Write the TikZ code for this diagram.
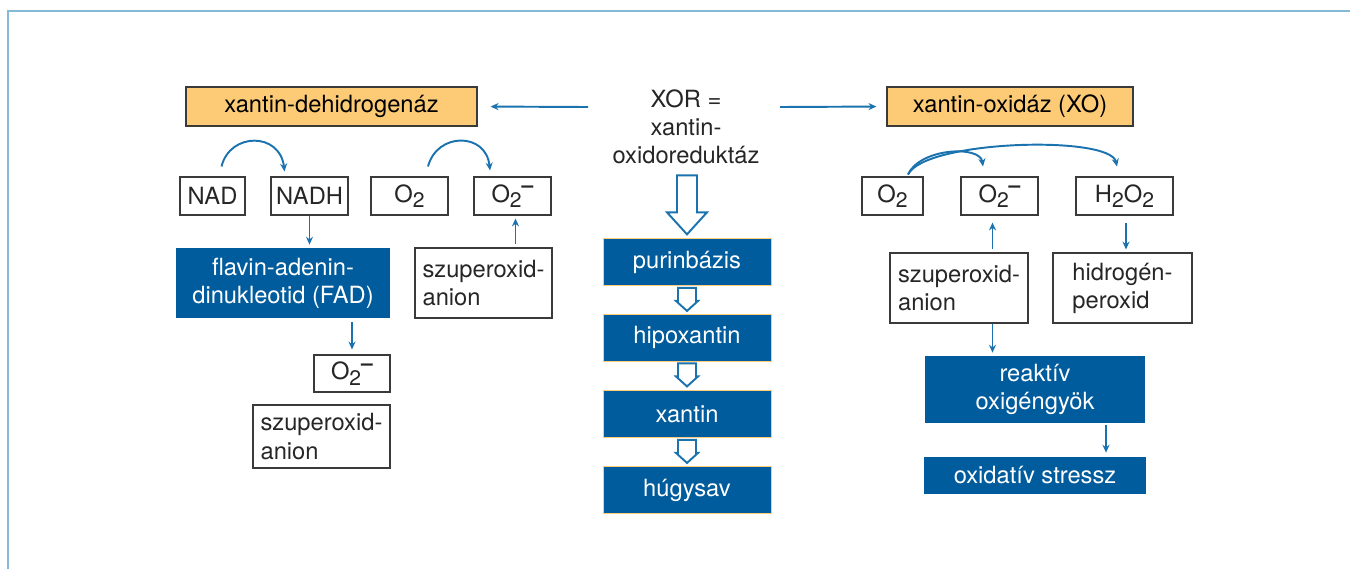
\documentclass[tikz,border=0pt]{standalone}
\usepackage{fontspec}
\setmainfont{TeX Gyre Heros}
\usepackage{tikz}
\usetikzlibrary{arrows.meta,positioning,calc}

\definecolor{xblue}{HTML}{005C9C}
\definecolor{xarrow}{HTML}{1A72AE}
\definecolor{xorange}{HTML}{FDCB76}
\definecolor{xframe}{HTML}{84BAD9}
\definecolor{xborder}{HTML}{3A3A3A}

% subscript 2 and minus as in the chart
\newcommand{\ltwo}{\raisebox{-0.45ex}{\fontsize{12}{12}\selectfont 2}}
\newcommand{\lmin}{\raisebox{0.75ex}{\fontsize{12}{12}\selectfont\textbf{--}}}
% hollow down arrow: start, shaft length, head length, shaft half width, head half width
\newcommand{\hollowdown}[5]{%
	\draw[hollowArr] (#1) ++(-#4,0) -- ++(0,-#2) -- ++({#4-#5},0) -- ++(#5,-#3)
		-- ++(#5,#3) -- ++({#4-#5},0) -- ++(0,#2) -- cycle;}

\begin{document}
\begin{tikzpicture}
	[ x=0.02cm, y=0.02cm,
		every node/.style={font=\fontsize{13.5}{16}\selectfont},
		enzyme/.style={rectangle,draw=xborder,line width=0.7pt,fill=xorange,inner sep=0pt,minimum height=7.8mm},
		molecule/.style={rectangle,draw=xborder,line width=0.6pt,inner sep=0pt,text=black!85,minimum height=7.6mm},
		note/.style={molecule,align=left,minimum width=#1},
		process/.style={rectangle,fill=xblue,text=white,align=center,inner sep=0pt},
		chain/.style={process,draw=xorange,line width=0.5pt,minimum width=33.6mm,minimum height=9.4mm},
		arrowOut/.style={-{Stealth[length=4.5pt,width=4pt]},draw=xarrow,line width=1.1pt},
		hollowArr/.style={draw=xarrow,line width=1.1pt,fill=white}]

	% frame and bounding box
	\useasboundingbox (0,0) rectangle (1350,-569);
	\draw[xframe,line width=1.6pt] (8,-569) -- (8,-11) -- (1350,-11);

	% middle column
	\node[align=center,text=black!85] (xor) at (686,-127) {XOR =\\ xantin-\\ oxidoreduktáz};
	\node[chain] (purin) at (687,-262) {purinbázis};
	\node[chain] (hipo) at (687,-337.5) {hipoxantin};
	\node[chain] (xan) at (687,-414) {xantin};
	\node[chain] (hugy) at (687,-490) {húgysav};

	% enzymes
	\node[enzyme,minimum width=58.2mm] (xdh) at (331.5,-106.5) {xantin-dehidrogenáz};
	\node[enzyme,minimum width=49.2mm] (xo) at (1010,-106.5) {xantin-oxidáz (XO)};
	\coordinate (xorW) at (588,-107);
	\coordinate (xorE) at (780,-107);

	% left side
	\node[molecule,minimum width=13mm] (nad) at (212.5,-196) {NAD};
	\node[molecule,minimum width=15.4mm] (nadh) at (309.5,-196) {NADH};
	\node[molecule,minimum width=15.4mm] (lo2) at (409.5,-196) {O\ltwo};
	\node[molecule,minimum width=15.4mm] (lo2m) at (512.5,-196) {O\ltwo\lmin};
	\node[process,minimum width=42.8mm,minimum height=14mm] (fad) at (283,-283) {flavin-adenin-\\ dinukleotid (FAD)};
	\node[note=27.4mm,minimum height=14mm] (lsz) at (483.5,-283) {szuperoxid-\\ anion};
	\node[molecule,minimum width=15.2mm,minimum height=7.4mm] (fo2m) at (352,-373.5) {O\ltwo\lmin};
	\node[note=27.4mm,minimum height=12.6mm] (fsz) at (321.5,-436.5) {szuperoxid-\\ anion};

	% right side
	\node[molecule,minimum width=12.2mm] (ro2) at (892.5,-196) {O\ltwo};
	\node[molecule,minimum width=15.4mm] (ro2m) at (999.5,-196) {O\ltwo\lmin};
	\node[molecule,minimum width=19.4mm] (rh2o2) at (1124.5,-196) {H\ltwo O\ltwo};
	\node[note=27.6mm,minimum height=14mm] (rsz) at (959,-288) {szuperoxid-\\ anion};
	\node[note=27.8mm,minimum height=14mm] (rhp) at (1122.5,-288) {hidrogén-\\ peroxid};
	\node[process,minimum width=44mm,minimum height=13.4mm] (ros) at (1035,-389.5) {reaktív\\ oxigéngyök};
	\node[process,minimum width=44.4mm,minimum height=7.4mm] (ox) at (1035,-475.5) {oxidatív stressz};

	% arrows
	\draw[arrowOut,shorten >=2.6mm] (xorW) -- (xdh.east);
	\draw[arrowOut,shorten >=2mm] (xorE) -- (xo.west);
	\draw[arrowOut] ($(nad.north)+(9,10)$) .. controls (230,-132) and (280,-132) .. ($(nadh.north)+(-25,5)$);
	\draw[arrowOut] ($(lo2.north)+(18.5,10)$) .. controls (437,-132) and (486,-132) .. ($(lo2m.north)+(-22.5,6)$);
	\draw[arrowOut,shorten >=0.6mm] (nadh.south) -- (nadh.south |- fad.north);
	\draw[arrowOut,shorten <=0.6mm,shorten >=0.6mm] ($(lo2m.south |- lsz.north)+(3,0)$) -- ($(lo2m.south)+(3,0)$);
	\draw[arrowOut,shorten <=0.8mm,shorten >=1mm] (fo2m.north |- fad.south) -- (fo2m.north);
	\draw[arrowOut] ($(ro2.north)+(15.5,2)$) .. controls (920,-148) and (980,-145) .. ($(ro2m.north)+(-16.5,10)$);
	\draw[arrowOut] ($(ro2.north)+(15.5,2)$) .. controls (925,-140) and (1110,-135) .. ($(rh2o2.north)+(-7.5,10)$);
	\draw[arrowOut,shorten <=0.6mm,shorten >=1.4mm] ($(ro2m.south |- rsz.north)+(-7,0)$) -- ($(ro2m.south)+(-7,0)$);
	\draw[arrowOut,shorten <=1.4mm,shorten >=0.6mm] ($(rh2o2.south)+(1.5,0)$) -- ($(rh2o2.south |- rhp.north)+(1.5,0)$);
	\draw[arrowOut,shorten >=0.6mm] ($(ro2m.south |- rsz.south)+(-7,0)$) -- ($(ro2m.south |- ros.north)+(-7,0)$);
	\draw[arrowOut,shorten <=0.4mm,shorten >=0.8mm] ($(ros.south)+(71,0)$) -- ($(ox.north)+(71,0)$);

	% hollow arrows down the chain
	\hollowdown{$(xor.south)+(1,-5)$}{37}{22}{10}{20}
	\hollowdown{$(purin.south)+(0,-2)$}{13}{10}{9}{11}
	\hollowdown{$(hipo.south)+(0,-2)$}{13}{10}{9}{11}
	\hollowdown{$(xan.south)+(0,-2)$}{13}{10}{9}{11}
\end{tikzpicture}
\end{document}
